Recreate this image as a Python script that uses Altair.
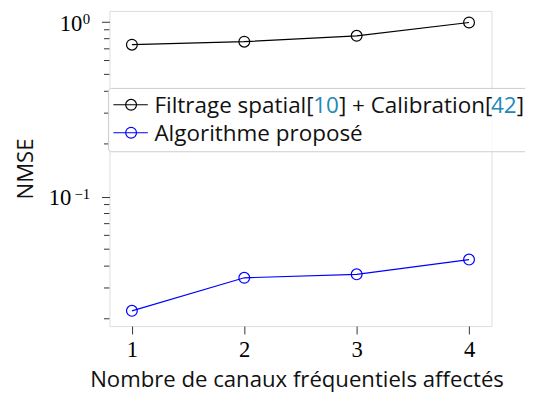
import re
import altair as alt
import pandas as pd

# ---- data ----
canaux = [1, 2, 3, 4]
nmse_filtrage = [0.739, 0.769, 0.831, 0.99]
nmse_propose = [0.0222, 0.0343, 0.0359, 0.0436]
series_names = ["Filtrage spatial[10] + Calibration[42]", "Algorithme proposé"]
series_colors = ["#000000", "#0000ff"]
cite_color = "#2188b8"
x_ticks = [1, 2, 3, 4]
y_major = [1.0, 0.1]
y_major_exp = ["0", "\u22121"]
y_minor = [0.02, 0.03, 0.04, 0.05, 0.06, 0.07, 0.08, 0.09,
           0.2, 0.3, 0.4, 0.5, 0.6, 0.7, 0.8, 0.9]
x_title = "Nombre de canaux fréquentiels affectés"
y_title = "NMSE"

df = pd.DataFrame({
    "canal": canaux * 2,
    "nmse": nmse_filtrage + nmse_propose,
    "serie": [series_names[0]] * 4 + [series_names[1]] * 4,
})

SANS = "Open Sans"
SERIF = "Liberation Serif"
FS = 22.5        # sans text size
LEG_FS = 22.8    # legend text size
TICK_FS = 23     # serif tick label size
MS = 120         # marker area

# approximate Open Sans advance widths (units per em = 2048), used to place
# the coloured citation numbers inside the legend label
OS_W = {" ": 532, "F": 1057, "C": 1292, "A": 1296, "[": 621, "]": 621, "+": 1139,
        "a": 1139, "b": 1255, "e": 1149, "g": 1122, "i": 518, "l": 518, "n": 1257,
        "o": 1237, "p": 1255, "r": 836, "s": 977, "t": 723}
def text_w(s, fs):
    return sum(OS_W.get(c, 1171 if c.isdigit() else 1139) for c in s) * fs / 2048

xscale = alt.Scale(domain=[0.8, 4.2], nice=False, zero=False)
yscale = alt.Scale(type="log", domain=[0.018167, 1.153], nice=False)
cscale = alt.Scale(domain=series_names, range=series_colors)

xaxis = alt.Axis(values=x_ticks, title=x_title, grid=False, domain=False,
                 tickSize=8, tickColor="#333", tickWidth=1,
                 labelFont=SERIF, labelFontSize=TICK_FS, labelColor="#000",
                 labelPadding=5, titleFont=SANS, titleFontSize=FS,
                 titleFontWeight="normal", titleColor="#111",
                 titleX=190, titleY=61, titleBaseline="alphabetic")
yaxis = alt.Axis(values=y_major, labels=False, title=y_title, grid=False,
                 domain=False, tickSize=8, tickColor="#333", tickWidth=1,
                 titleFont=SANS, titleFontSize=FS, titleFontWeight="normal",
                 titleColor="#111", titleAngle=270, titleX=-78, titleY=160,
                 titleAlign="center", titleBaseline="alphabetic")

X = alt.X("canal:Q", scale=xscale, axis=xaxis)
Y = alt.Y("nmse:Q", scale=yscale, axis=yaxis)

lines = alt.Chart(df).mark_line(strokeWidth=1.2).encode(
    x=X, y=Y, color=alt.Color("serie:N", scale=cscale, legend=None))
points = alt.Chart(df).mark_point(filled=False, size=MS, strokeWidth=1.2,
                                  opacity=1, shape="circle").encode(
    x=X, y=Y, color=alt.Color("serie:N", scale=cscale, legend=None))

one = pd.DataFrame({"k": [0]})
layers = [lines, points]

# minor ticks of the log axis
minor = alt.Chart(pd.DataFrame({"nmse": y_minor})).mark_rule(
    color="#333", strokeWidth=1).encode(
    y=Y, x=alt.value(-5.5), x2=alt.value(0))
layers.append(minor)

# y tick labels 10^e
EXP_FS = 15
for v, e in zip(y_major, y_major_exp):
    exp_w = sum(0.5 * EXP_FS if ch.isdigit() else 0.75 * EXP_FS for ch in e)
    d = pd.DataFrame({"nmse": [v]})
    base = alt.Chart(d).mark_text(text="10", font=SERIF, fontSize=TICK_FS,
                                  align="right", baseline="alphabetic",
                                  dy=9, color="#000").encode(
        y=Y, x=alt.value(-19.5 - exp_w - 0.5))
    sup = alt.Chart(d).mark_text(text=e, font=SERIF, fontSize=EXP_FS,
                                 align="right", baseline="alphabetic",
                                 dy=2, color="#000").encode(
        y=Y, x=alt.value(-19.5))
    layers += [base, sup]

# legend box
box = alt.Chart(one).mark_rect(fill="white", fillOpacity=0.8, stroke="#cccccc",
                               strokeWidth=1, cornerRadius=3).encode(
    x=alt.value(-1), x2=alt.value(445), y=alt.value(78.7), y2=alt.value(143))
layers.append(box)

TX = 45.7
for i, (name, col) in enumerate(zip(series_names, series_colors)):
    ry = 95.3 + i * 28.4
    layers.append(alt.Chart(one).mark_rule(color=col, strokeWidth=1.2).encode(
        x=alt.value(4), x2=alt.value(39), y=alt.value(ry)))
    layers.append(alt.Chart(one).mark_point(filled=False, size=MS, strokeWidth=1.2,
                                            opacity=1, shape="circle", color=col).encode(
        x=alt.value(22), y=alt.value(ry)))
    # split into parts; numbers inside brackets are citations (coloured)
    x0 = TX
    for j, p in enumerate(re.split(r"(?<=\[)(\d+)(?=\])", name)):
        if not p:
            continue
        c = cite_color if j % 2 == 1 else "#111"
        layers.append(alt.Chart(one).mark_text(
            text=p, font=SANS, fontSize=LEG_FS, align="left",
            baseline="alphabetic", color=c).encode(
            x=alt.value(x0), y=alt.value(ry + 8.2)))
        x0 += text_w(p, LEG_FS)

chart = alt.layer(*layers).properties(
    width=388, height=320,
    autosize=alt.AutoSizeParams(type="none"),
    padding={"left": 103, "top": 0, "right": 34, "bottom": 65},
).configure_view(stroke="#333", strokeWidth=1).configure(background="white")

chart.save("out.html", embed_options={"renderer": "svg", "actions": False})
